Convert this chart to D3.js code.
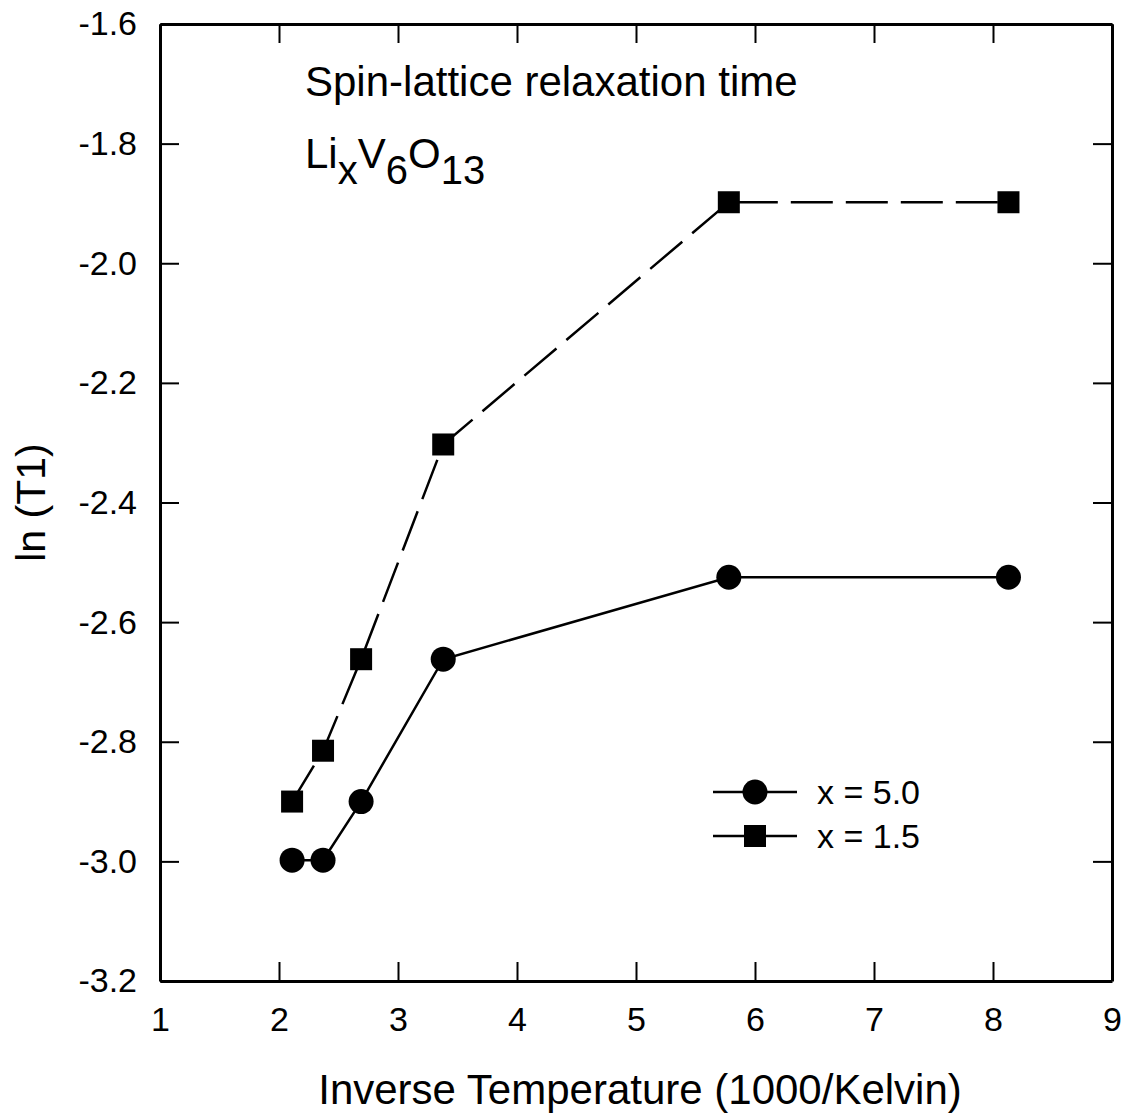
<!DOCTYPE html>
<html lang="en">
<head>
    <meta charset="UTF-8">
    <title>Spin-lattice relaxation time</title>
    <style>
        body {
            margin: 0;
            padding: 0;
            background-color: #fff;
        }
        svg text {
            font-family: 'Liberation Sans', Arial, sans-serif;
            fill: #000;
        }
        .axis path {
            stroke: #000;
            stroke-width: 3px;
        }
        .axis line {
            stroke: #000;
            stroke-width: 2px;
        }
        .axis text {
            font-size: 34px;
        }
    </style>
</head>
<body>
    <div id="chart"></div>

    <script src="https://d3js.org/d3.v7.min.js"></script>
    <script>
        // data
        const inverseTemp = [2.11, 2.37, 2.69, 3.38, 5.78, 8.13];
        const lnT1_x50 = [-2.998, -2.998, -2.90, -2.662, -2.525, -2.525];
        const lnT1_x15 = [-2.90, -2.815, -2.662, -2.303, -1.898, -1.898];
        const xTicks = [1, 2, 3, 4, 5, 6, 7, 8, 9];
        const yTicks = [-3.2, -3.0, -2.8, -2.6, -2.4, -2.2, -2.0, -1.8, -1.6];
        const seriesNames = ['x = 5.0', 'x = 1.5'];

        const width = 1126;
        const height = 1117;
        const margin = { top: 24, right: 14, bottom: 136, left: 160 };

        const svg = d3.select('#chart')
            .append('svg')
            .attr('width', width)
            .attr('height', height);

        const x = d3.scaleLinear()
            .domain([1, 9])
            .range([margin.left, width - margin.right]);

        const y = d3.scaleLinear()
            .domain([-3.2, -1.6])
            .range([height - margin.bottom, margin.top]);

        const tickLen = 19;

        // bottom axis
        svg.append('g')
            .attr('class', 'axis')
            .attr('transform', `translate(0, ${y(-3.2)})`)
            .call(d3.axisBottom(x).tickValues(xTicks).tickSizeInner(-tickLen).tickSizeOuter(0).tickPadding(26).tickFormat(d3.format('d')));

        // top axis, ticks only
        svg.append('g')
            .attr('class', 'axis')
            .attr('transform', `translate(0, ${y(-1.6)})`)
            .call(d3.axisTop(x).tickValues(xTicks).tickSizeInner(-tickLen).tickSizeOuter(0).tickFormat(''));

        // left axis
        svg.append('g')
            .attr('class', 'axis')
            .attr('transform', `translate(${x(1)}, 0)`)
            .call(d3.axisLeft(y).tickValues(yTicks).tickSizeInner(-tickLen).tickSizeOuter(0).tickPadding(23).tickFormat(d3.format('.1f')));

        // right axis, ticks only
        svg.append('g')
            .attr('class', 'axis')
            .attr('transform', `translate(${x(9)}, 0)`)
            .call(d3.axisRight(y).tickValues(yTicks).tickSizeInner(-tickLen).tickSizeOuter(0).tickFormat(''));

        // hyphen-style minus like the original
        svg.selectAll('.axis text').each(function () {
            const t = d3.select(this);
            t.text(t.text().replace('\u2212', '-'));
        });

        // axis titles
        svg.append('text')
            .attr('x', (x(1) + x(9)) / 2 + 4)
            .attr('y', 1104)
            .attr('text-anchor', 'middle')
            .style('font-size', '42px')
            .text('Inverse Temperature (1000/Kelvin)');

        svg.append('text')
            .attr('transform', `translate(45, ${(y(-3.2) + y(-1.6)) / 2}) rotate(-90)`)
            .attr('text-anchor', 'middle')
            .style('font-size', '41px')
            .text('ln (T1)');

        // annotation
        svg.append('text')
            .attr('x', 305)
            .attr('y', 96)
            .style('font-size', '42px')
            .text('Spin-lattice relaxation time');

        const formula = svg.append('text')
            .attr('x', 305)
            .attr('y', 168)
            .style('font-size', '42px');
        formula.append('tspan').text('Li');
        formula.append('tspan').attr('dy', 16).style('font-size', '40px').text('x');
        formula.append('tspan').attr('dy', -16).text('V');
        formula.append('tspan').attr('dy', 16).style('font-size', '40px').text('6');
        formula.append('tspan').attr('dy', -16).text('O');
        formula.append('tspan').attr('dy', 16).style('font-size', '40px').text('13');

        const line = d3.line()
            .x((d, i) => x(inverseTemp[i]))
            .y(d => y(d));

        // x = 1.5 dashed
        svg.append('path')
            .datum(lnT1_x15)
            .attr('fill', 'none')
            .attr('stroke', '#000')
            .attr('stroke-width', 2.5)
            .attr('stroke-dasharray', '42,13')
            .attr('d', line);

        // x = 5.0 solid
        svg.append('path')
            .datum(lnT1_x50)
            .attr('fill', 'none')
            .attr('stroke', '#000')
            .attr('stroke-width', 2.5)
            .attr('d', line);

        const sq = 22;
        svg.selectAll('.sq')
            .data(lnT1_x15)
            .enter()
            .append('rect')
            .attr('class', 'sq')
            .attr('x', (d, i) => x(inverseTemp[i]) - sq / 2)
            .attr('y', d => y(d) - sq / 2)
            .attr('width', sq)
            .attr('height', sq)
            .attr('fill', '#000');

        svg.selectAll('.dot')
            .data(lnT1_x50)
            .enter()
            .append('circle')
            .attr('class', 'dot')
            .attr('cx', (d, i) => x(inverseTemp[i]))
            .attr('cy', d => y(d))
            .attr('r', 12.5)
            .attr('fill', '#000');

        // legend
        const legend = svg.append('g').attr('transform', 'translate(713, 792)');
        seriesNames.forEach((name, i) => {
            const row = legend.append('g').attr('transform', `translate(0, ${i * 44})`);
            row.append('line')
                .attr('x1', 0).attr('x2', 84)
                .attr('y1', 0).attr('y2', 0)
                .attr('stroke', '#000')
                .attr('stroke-width', 2.5);
            if (i === 0) {
                row.append('circle').attr('cx', 42).attr('cy', 0).attr('r', 12.5).attr('fill', '#000');
            } else {
                row.append('rect').attr('x', 42 - sq / 2).attr('y', -sq / 2).attr('width', sq).attr('height', sq).attr('fill', '#000');
            }
            row.append('text')
                .attr('x', 104)
                .attr('y', 12)
                .style('font-size', '34px')
                .text(name);
        });
    </script>
</body>
</html>
